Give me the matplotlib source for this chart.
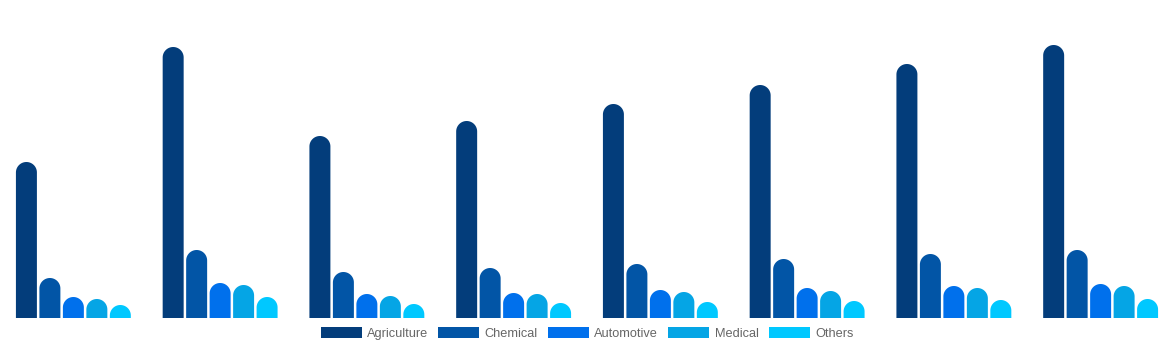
import numpy as np
import matplotlib
matplotlib.use("Agg")
import matplotlib.pyplot as plt
from matplotlib.patches import Polygon, Patch

plt.rcParams['font.family'] = ['Liberation Sans', 'DejaVu Sans']

# yearly output per sector (8 periods)
periods = ["P1", "P2", "P3", "P4", "P5", "P6", "P7", "P8"]
sectors = ["Agriculture", "Chemical", "Automotive", "Medical", "Others"]
agriculture = [156, 271, 182, 197, 214, 233, 254, 273]
chemical = [40, 68, 46, 50, 54, 59, 64, 68]
automotive = [21, 35, 24, 25, 28, 30, 32, 34]
medical = [19, 33, 22, 24, 26, 27, 30, 32]
others = [13, 21, 14, 15, 16, 17, 18, 19]
colors = ["#033d7b", "#0255a6", "#0070ec", "#05a5e5", "#00c8ff"]

series = [agriculture, chemical, automotive, medical, others]

W, H = 1174, 350
fig = plt.figure(figsize=(W / 100, H / 100), dpi=100)
# plot area: full width, baseline 32px above the bottom edge
ax = fig.add_axes([0, 32 / H, 1, 1 - 32 / H])
ax.set_xlim(-0.5, len(periods) - 0.5)
ax.set_ylim(0, 318)
ax.axis("off")

bar_w = 0.143
step = 0.16
x = np.arange(len(periods))

# half the bar width expressed in y data units, for the rounded caps
p0 = ax.transData.transform((0, 0))
p1 = ax.transData.transform((bar_w, 1))
r_px = (p1[0] - p0[0]) / 2
r = r_px / (p1[1] - p0[1])
theta = np.linspace(np.pi, 0, 40)


def rounded_bar(xc, v, color):
    half = bar_w / 2
    top = v - r
    arc_x = xc + half * np.cos(theta)
    arc_y = top + r * np.sin(theta)
    xs = np.concatenate([[xc - half], arc_x, [xc + half]])
    ys = np.concatenate([[0], arc_y, [0]])
    ax.add_patch(Polygon(np.column_stack([xs, ys]), closed=True,
                         facecolor=color, edgecolor="none"))


for k, (vals, c) in enumerate(zip(series, colors)):
    for xi, v in zip(x + (k - 2) * step, vals):
        rounded_bar(xi, v, c)

handles = [Patch(facecolor=c, edgecolor="none", label=n)
           for n, c in zip(sectors, colors)]
fs = 9.2
em = fs * 100 / 72  # font size in pixels
fig.legend(handles=handles, loc="center",
           bbox_to_anchor=(0.5, (H - 333.5) / H),
           ncol=5, frameon=False, fontsize=fs, labelcolor="#666666",
           handlelength=41 / em, handleheight=11 / em,
           handletextpad=5.5 / em, columnspacing=10 / em,
           borderpad=0)

fig.savefig("out.png", dpi=100, facecolor="white")
